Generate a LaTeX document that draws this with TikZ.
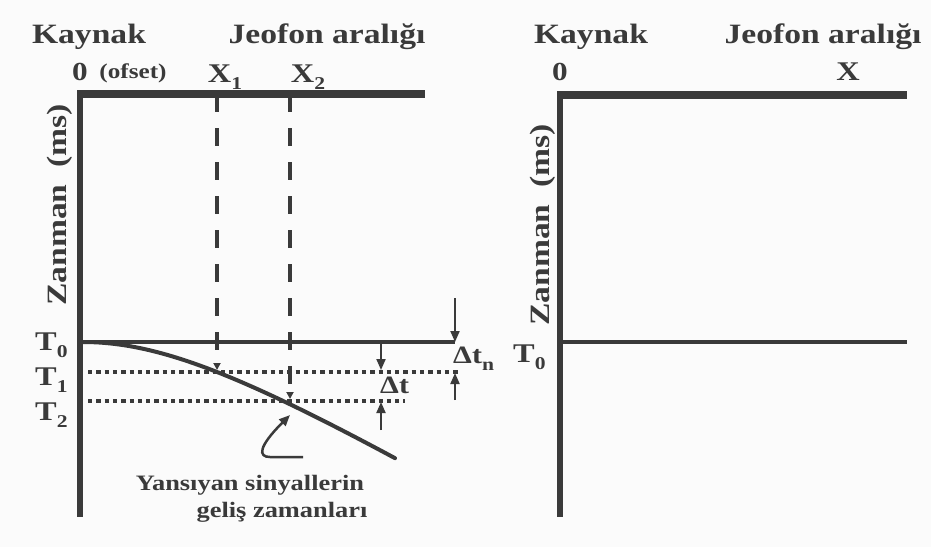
\documentclass[tikz,border=0pt]{standalone}
\usepackage{fontspec}
\setmainfont{Liberation Serif}[FakeStretch=1.2]
\usepackage{xcolor}
\usetikzlibrary{arrows.meta,positioning}
\definecolor{inkgray}{RGB}{58,58,58}
\definecolor{paper}{RGB}{251,251,251}
\newcommand{\lowidx}[1]{\raisebox{-0.28em}{\fontsize{18}{18}\selectfont #1}}

\begin{document}
\begin{tikzpicture}[
    x=1pt, y=-1pt,
    lbl/.style={text=inkgray, inner sep=0pt, anchor=base, font=\fontsize{28}{28}\selectfont\bfseries},
    small/.style={lbl, font=\fontsize{22}{22}\selectfont\bfseries},
    axistop/.style={draw=inkgray, line width=7.5pt},
    axisleft/.style={draw=inkgray, line width=6pt},
    zeroline/.style={draw=inkgray, line width=4pt},
    guide/.style={draw=inkgray, line width=3.5pt, dash pattern=on 18pt off 16pt},
    level/.style={draw=inkgray, line width=4pt, dash pattern=on 4.3pt off 4pt},
    curve/.style={draw=inkgray, line width=4pt, line cap=round},
    darrow/.style={draw=inkgray, line width=2pt, -{Triangle[length=11pt,width=9pt]}},
    tip/.style={-{Triangle[length=7pt,width=7pt]}}
]
\fill[paper] (0,0) rectangle (931,547);

% Left panel
\coordinate (o1) at (80,94);
\coordinate (tx1) at (425,94);
\coordinate (b1) at (80,517);
\draw[axistop] (77,94) -- (tx1);
\draw[axisleft] (o1) -- (b1);

\node[lbl] (kay1) at (89,43) {Kaynak};
\node[lbl] (jeo1) at (327,43) {Jeofon aralığı};
\node[lbl, font=\fontsize{26}{26}\selectfont\bfseries] (zero1) at (80,80) {0};
\node[lbl, font=\fontsize{21}{21}\selectfont\bfseries] (ofs) at (133,78) {(ofset)};
\node[lbl, font=\fontsize{27}{27}\selectfont\bfseries] (x1) at (225,82) {X\lowidx{1}};
\node[lbl, font=\fontsize{27}{27}\selectfont\bfseries] (x2) at (308,82) {X\lowidx{2}};
\node[lbl, rotate=90] (zam1) at (66,205) {Zanman\ \ (ms)};

% time levels
\coordinate (t0a) at (80,342);
\coordinate (t0b) at (455,342);
\coordinate (t1a) at (88,372);
\coordinate (t1b) at (460,372);
\coordinate (t2a) at (88,401);
\coordinate (t2b) at (405,401);
\draw[zeroline] (t0a) -- (t0b);
\draw[level] (t1a) -- (t1b);
\draw[level] (t2a) -- (t2b);

\node[lbl, anchor=base west, font=\fontsize{27}{27}\selectfont\bfseries] (T0) at (35,350) {T\lowidx{0}};
\node[lbl, anchor=base west, font=\fontsize{27}{27}\selectfont\bfseries] (T1) at (35,385) {T\lowidx{1}};
\node[lbl, anchor=base west, font=\fontsize{27}{27}\selectfont\bfseries] (T2) at (35,420) {T\lowidx{2}};

% geophone positions
\coordinate (p1) at (217,370);
\coordinate (p2) at (290,399);
\draw[guide, tip] (217,94) -- (p1);
\draw[guide, tip] (290,94) -- (p2);

% reflection arrivals
\draw[curve] plot[domain=0:312, samples=60] ({83+\x},{342+6*(sqrt(15.46*15.46+(\x/10)^2)-15.46)});

% delta t marks
\coordinate (dn1) at (455,298);
\coordinate (up1) at (455,400);
\coordinate (dn2) at (381,343);
\coordinate (dn2e) at (381,370);
\coordinate (up2) at (381,430);
\coordinate (up2e) at (381,402);
\draw[darrow] (dn1) -- (t0b);
\draw[darrow] (up1) -- (455,373);
\draw[darrow] (dn2) -- (dn2e);
\draw[darrow] (up2) -- (up2e);
\node[lbl, anchor=base west, font=\fontsize{25}{25}\selectfont\bfseries] (dtn) at (453,363) {Δt\lowidx{n}};
\node[lbl, anchor=base west, font=\fontsize{25}{25}\selectfont\bfseries] (dt) at (380,393) {Δt};

% pointer to arrivals
\coordinate (hook) at (303,457);
\coordinate (hookb) at (270,457);
\coordinate (hookt) at (290,415);
\draw[darrow, line width=2.5pt] (hook) -- (hookb) .. controls (258,457) and (258,447) .. (hookt);
\node[small] (yans) at (250,490) {Yansıyan sinyallerin};
\node[small] (gelis) at (282,517) {geliş zamanları};

% Right panel
\coordinate (o2) at (560,95);
\coordinate (tx2) at (907,95);
\coordinate (b2) at (560,517);
\draw[axistop] (557,95) -- (tx2);
\draw[axisleft] (o2) -- (b2);
\draw[zeroline] (560,342) -- (907,342);

\node[lbl] (kay2) at (591,43) {Kaynak};
\node[lbl] (jeo2) at (823,43) {Jeofon aralığı};
\node[lbl, font=\fontsize{26}{26}\selectfont\bfseries] (zero2) at (560,80) {0};
\node[lbl, font=\fontsize{27}{27}\selectfont\bfseries] (xr) at (848,80) {X};
\node[lbl, rotate=90] (zam2) at (549,225) {Zanman\ \ (ms)};
\node[lbl, anchor=base west, font=\fontsize{27}{27}\selectfont\bfseries] (T0r) at (513,362) {T\lowidx{0}};

\end{tikzpicture}
\end{document}
